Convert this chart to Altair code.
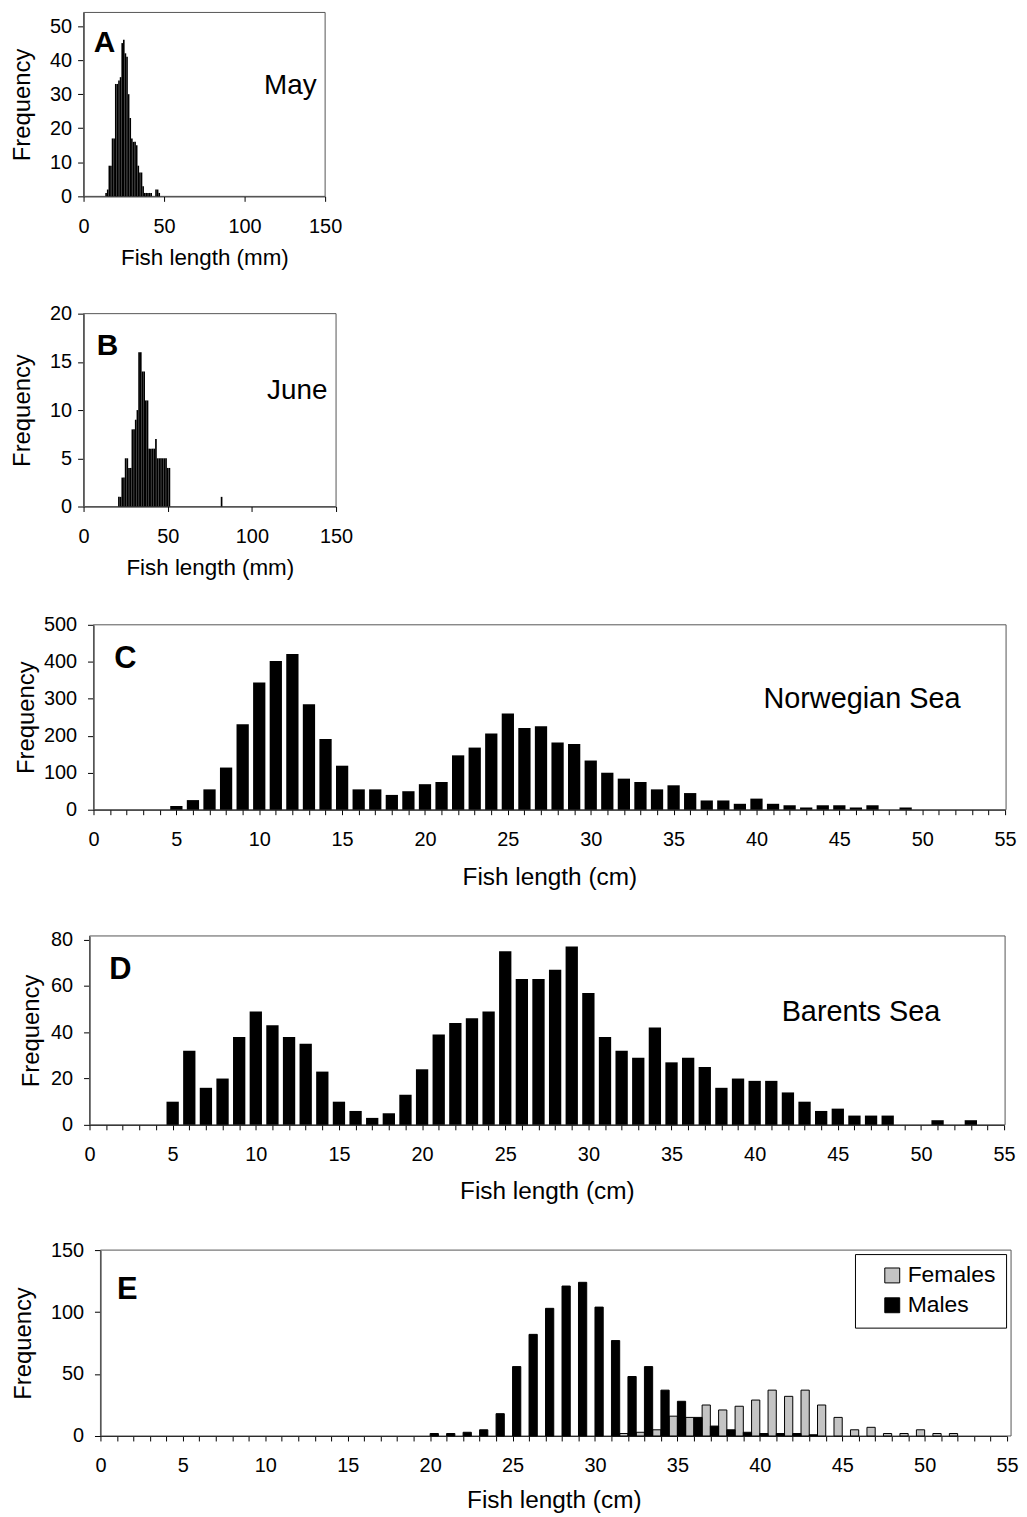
import altair as alt
import pandas as pd

FONT = "Liberation Sans"

# ---------------- data ----------------
len_a = list(range(14, 48))
freq_a = [1, 2, 9, 9, 17, 17, 33, 33, 34, 35, 45, 46, 42, 41, 30, 23, 17, 16, 16, 15,
          9, 7, 7, 3, 1, 1, 1, 1, 1, 0, 0, 2, 2, 1]

len_b = list(range(21, 52)) + [82]
freq_b = [1, 1, 3, 3, 5, 5, 4, 4, 8, 8, 9, 10, 16, 16, 14, 14, 11, 11, 6, 6, 6, 6, 7,
          5, 5, 5, 5, 5, 5, 4, 4, 1]

len_c = list(range(5, 50))
freq_c = [10, 26, 55, 114, 231, 344, 402, 421, 285, 191, 119, 55, 55, 40, 50,
          69, 75, 147, 168, 206, 260, 221, 226, 182, 178, 133, 100, 84, 75, 55,
          66, 45, 25, 25, 16, 30, 16, 12, 6, 12, 12, 6, 12, 0, 6]

len_d = list(range(5, 54))
freq_d = [10, 32, 16, 20, 38, 49, 43, 38, 35, 23, 10, 6, 3, 5, 13, 24, 39, 44, 46, 49,
          75, 63, 63, 67, 77, 57, 38, 32, 29, 42, 27, 29, 25, 16, 20, 19, 19, 14, 10, 6,
          7, 4, 4, 4, 0, 0, 2, 0, 2]

len_e = list(range(20, 53))
females_e = [0, 0, 0, 0, 0, 0, 0, 0, 0, 0, 0, 0, 2, 3, 5, 16, 15, 25, 21, 24, 29, 37,
             32, 37, 25, 15, 5, 7, 2, 2, 5, 2, 2]
males_e = [2, 2, 3, 5, 18, 56, 82, 103, 121, 124, 104, 77, 48, 56, 37, 28, 15, 8, 5, 3,
           2, 2, 2, 1, 0, 0, 0, 0, 0, 0, 0, 0, 0]
sexes = ["Females", "Males"]

ticks_mm = [0, 50, 100, 150]
ticks_cm = list(range(0, 56))

# ---------------- layout (pixels inside the chart) ----------------
W, H = 1017, 1505
# panel: axis x-start, axis x-end, frame x-right, y-top, y-bottom
geo = {
    "A": (76, 319, 319, 0, 185),
    "B": (76, 330, 330, 303, 497),
    "C": (86, 1003, 1004, 616, 802),
    "D": (82, 1002, 1003, 929, 1119),
    "E": (93, 1005, 1009, 1245, 1432),
}
# y-axis: fixed label extent, label padding, title padding
ystyle = {
    "A": (40, 6, 9),
    "B": (40, 6, 9),
    "C": (50, 11, 5),
    "D": (40, 11, 6),
    "E": (50, 11, 15),
}
# x-axis title padding
xtpad = {"A": 11, "B": 10, "C": 16, "D": 15, "E": 13}


def xaxis(p, title, values, tsize, every5=False):
    x0, x1, xr, yt, yb = geo[p]
    kw = dict(title=title, values=values, orient="bottom", offset=yb - H, tickSize=5,
              labelPadding=15, titlePadding=xtpad[p], titleFontSize=tsize,
              labelFlush=False, labelOverlap=False, grid=False)
    if every5:
        kw["labelExpr"] = "datum.value % 5 === 0 ? datum.label : ''"
    return alt.Axis(**kw)


def yaxis(p, values):
    x0, x1, xr, yt, yb = geo[p]
    ext, lpad, tpad = ystyle[p]
    return alt.Axis(title="Frequency", values=values, orient="left", offset=-x0,
                    tickSize=6, labelPadding=lpad, minExtent=ext, maxExtent=ext,
                    titlePadding=tpad, grid=False, labelOverlap=False,
                    labelFlush=False)


def xs(p, dom):
    x0, x1, xr, yt, yb = geo[p]
    return alt.Scale(domain=dom, range=[x0, x1], nice=False, zero=False)


def ys(p, dom):
    x0, x1, xr, yt, yb = geo[p]
    return alt.Scale(domain=dom, range=[yb, yt], nice=False, zero=False)


def frame(p):
    x0, x1, xr, yt, yb = geo[p]
    return alt.Chart(pd.DataFrame({"p": [p]})).mark_rect(
        fillOpacity=0, stroke="#555555", strokeWidth=1
    ).encode(x=alt.value(x0), x2=alt.value(xr), y=alt.value(yt), y2=alt.value(yb))


def label(p, text, dx, dy, size, bold=False, baseline="middle"):
    x0, x1, xr, yt, yb = geo[p]
    return alt.Chart(pd.DataFrame({"t": [text]})).mark_text(
        font=FONT, fontSize=size, fontWeight="bold" if bold else "normal",
        align="center", baseline=baseline, color="black"
    ).encode(text="t:N", x=alt.value(x0 + dx), y=alt.value(yt + dy))


def hist(p, lengths, freqs, ydom, yvals):
    df = pd.DataFrame({"length": lengths, "freq": freqs})
    return alt.Chart(df).transform_filter("datum.freq > 0").transform_calculate(
        x1="datum.length - 0.5", x2="datum.length + 0.5"
    ).mark_bar(color="black").encode(
        x=alt.X("x1:Q", scale=xs(p, [0, 150]),
                axis=xaxis(p, "Fish length (mm)", ticks_mm, 22.5)),
        x2="x2:Q",
        y=alt.Y("freq:Q", scale=ys(p, ydom), axis=yaxis(p, yvals)),
        y2=alt.datum(0),
    )


def columns(p, lengths, freqs, ydom, yvals):
    df = pd.DataFrame({"length": lengths, "freq": freqs})
    return alt.Chart(df).transform_filter("datum.freq > 0").transform_calculate(
        x1="datum.length - 0.37", x2="datum.length + 0.37"
    ).mark_bar(color="black").encode(
        x=alt.X("x1:Q", scale=xs(p, [0, 55]),
                axis=xaxis(p, "Fish length (cm)", ticks_cm, 24.5, every5=True)),
        x2="x2:Q",
        y=alt.Y("freq:Q", scale=ys(p, ydom), axis=yaxis(p, yvals)),
        y2=alt.datum(0),
    )


df_e = pd.DataFrame({
    "length": len_e * 2,
    "freq": females_e + males_e,
    "sex": [sexes[0]] * len(len_e) + [sexes[1]] * len(len_e),
})
bars_e = alt.Chart(df_e).transform_filter("datum.freq > 0").transform_calculate(
    x1="datum.sex === 'Females' ? datum.length - 0.5 : datum.length",
    x2="datum.sex === 'Females' ? datum.length : datum.length + 0.5",
).mark_bar(stroke="black", strokeWidth=1).encode(
    x=alt.X("x1:Q", scale=xs("E", [0, 55]),
            axis=xaxis("E", "Fish length (cm)", ticks_cm, 24.5, every5=True)),
    x2="x2:Q",
    y=alt.Y("freq:Q", scale=ys("E", [0, 150]), axis=yaxis("E", [0, 50, 100, 150])),
    y2=alt.datum(0),
    fill=alt.Fill("sex:N", scale=alt.Scale(domain=sexes, range=["#c4c4c4", "#000000"]),
                  legend=alt.Legend(orient="none", legendX=852, legendY=1249, title=None,
                                    symbolType="square", symbolSize=225,
                                    symbolStrokeColor="black", symbolStrokeWidth=1,
                                    labelFont=FONT, labelFontSize=23, labelColor="black",
                                    strokeColor="black", fillColor="white", padding=10,
                                    rowPadding=6, symbolOffset=16, labelOffset=4,
                                    direction="vertical")),
)

layers = [
    frame("A"), hist("A", len_a, freq_a, [0, 54], [0, 10, 20, 30, 40, 50]),
    label("A", "A", 21, 31, 30, bold=True),
    label("A", "May", 208, 82, 28, baseline="alphabetic"),

    frame("B"), hist("B", len_b, freq_b, [0, 20], [0, 5, 10, 15, 20]),
    label("B", "B", 24, 33, 30, bold=True),
    label("B", "June", 215, 86, 28, baseline="alphabetic"),

    frame("C"), columns("C", len_c, freq_c, [0, 500], [0, 100, 200, 300, 400, 500]),
    label("C", "C", 32, 34, 31, bold=True),
    label("C", "Norwegian Sea", 773, 84, 29, baseline="alphabetic"),

    frame("D"), columns("D", len_d, freq_d, [0, 81.6], [0, 20, 40, 60, 80]),
    label("D", "D", 31, 34, 31, bold=True),
    label("D", "Barents Sea", 776, 86, 29, baseline="alphabetic"),

    frame("E"), bars_e,
    label("E", "E", 27, 40, 31, bold=True),
]

chart = alt.layer(*layers).resolve_scale(
    x="independent", y="independent"
).resolve_axis(x="independent", y="independent").properties(
    width=W, height=H, padding=0, autosize=alt.AutoSizeParams(type="none")
).configure(font=FONT).configure_axis(
    labelFont=FONT, titleFont=FONT, labelFontSize=20, titleFontSize=24,
    titleFontWeight="normal", labelColor="black", titleColor="black",
    domainColor="black", tickColor="black", grid=False
).configure_view(strokeWidth=0)

chart.save("out.html", embed_options={"renderer": "svg", "actions": False})
